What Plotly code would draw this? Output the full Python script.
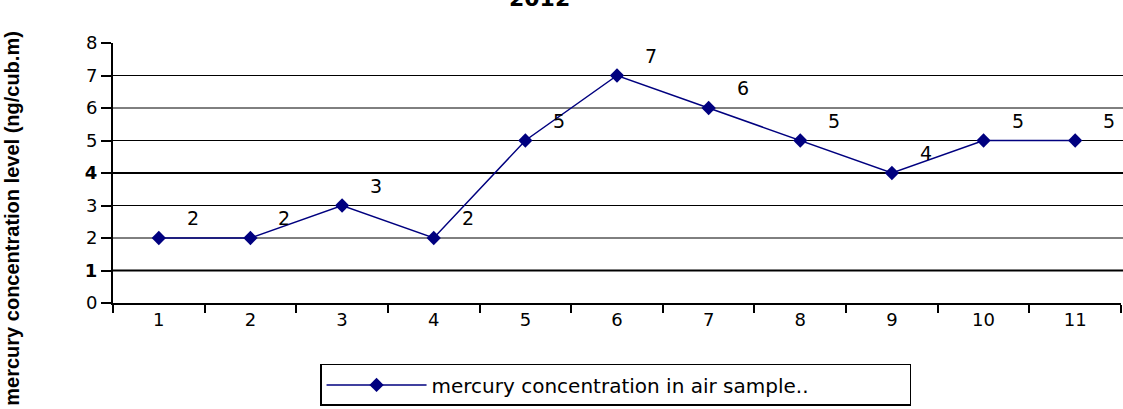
import plotly.graph_objects as go

samples = ["1", "2", "3", "4", "5", "6", "7", "8", "9", "10", "11"]
mercury = [2, 2, 3, 2, 5, 7, 6, 5, 4, 5, 5]
y_ticks = [0, 1, 2, 3, 4, 5, 6, 7, 8]
y_tick_text = ["0", "<b>1</b>", "2", "3", "<b>4</b>", "5", "6", "7", "8"]
grid_thin = [2, 3, 5, 6, 7]
grid_thick = [1, 4]

NAVY = "#00007f"
WIDE = "DejaVu Sans, Verdana, sans-serif"
FONT = "Liberation Sans, Arial, sans-serif"

fig = go.Figure()
fig.add_trace(go.Scatter(
    x=samples, y=mercury, mode="lines+markers",
    name="mercury concentration in air sample.." + "&nbsp;" * 15,
    line=dict(color=NAVY, width=1.5),
    marker=dict(symbol="diamond", size=11, color=NAVY),
))

for i, v in enumerate(mercury):
    fig.add_annotation(x=i, y=v, text=str(v), showarrow=False,
                       xshift=34, yshift=20,
                       font=dict(family=WIDE, size=19, color="black"))

shapes = []
for g in grid_thin:
    shapes.append(dict(type="line", xref="paper", x0=0, x1=1.01, yref="y", y0=g, y1=g,
                       line=dict(color="black", width=1), layer="below"))
for g in grid_thick:
    shapes.append(dict(type="line", xref="paper", x0=0, x1=1.01, yref="y", y0=g, y1=g,
                       line=dict(color="black", width=2), layer="below"))
fig.update_layout(shapes=shapes)

fig.add_annotation(text="<b>mercury concentration level (ng/cub.m)</b>", textangle=-90,
                   xref="paper", yref="paper", x=-0.101, y=0.325,
                   xanchor="center", yanchor="middle", showarrow=False,
                   font=dict(family=FONT, size=20, color="black"))
fig.add_annotation(text="<b>2012</b>", xref="paper", yref="paper", x=0.423, y=1.115,
                   yanchor="bottom", showarrow=False,
                   font=dict(family=WIDE, size=22, color="black"))

fig.update_xaxes(type="category", range=[-0.5, 10.5], tickson="boundaries",
                 ticks="outside", ticklen=8, tickwidth=2, tickcolor="black",
                 showline=True, linecolor="black", linewidth=1.5, showgrid=False,
                 automargin=False,
                 tickfont=dict(family=WIDE, size=18, color="black"), zeroline=False)
fig.update_yaxes(range=[0, 8], tickvals=y_ticks, ticktext=y_tick_text,
                 ticks="outside", ticklen=10, tickwidth=1.5, tickcolor="black",
                 showline=True, linecolor="black", linewidth=2, showgrid=False,
                 automargin=False,
                 zeroline=False, tickfont=dict(family=WIDE, size=18, color="black"))

fig.update_layout(
    width=1123, height=409,
    margin=dict(l=113, r=2, t=43, b=106),
    paper_bgcolor="white", plot_bgcolor="white",
    showlegend=True,
    legend=dict(x=0.2054, y=-0.396, xanchor="left", yanchor="bottom",
                bordercolor="black", borderwidth=1.5, bgcolor="white",
                font=dict(family=WIDE, size=20, color="black"), itemwidth=100),
)

fig.write_html("out.html", config={"displayModeBar": False},
               post_script="document.body.style.margin='0';document.body.style.overflow='hidden';")
